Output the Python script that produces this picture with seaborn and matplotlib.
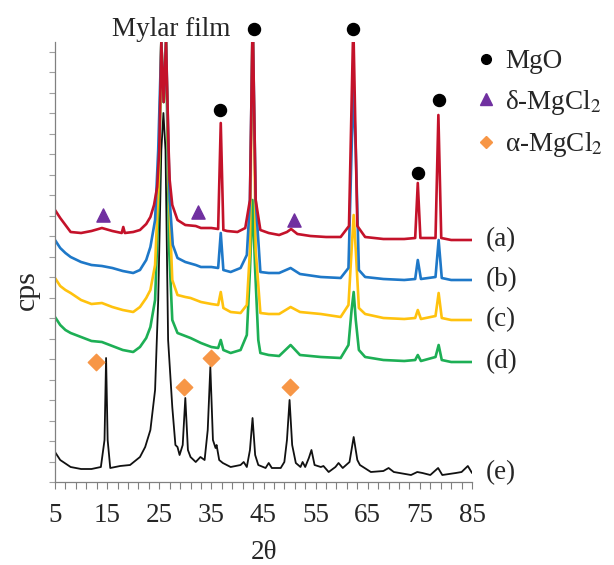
import numpy as np
import pandas as pd
import matplotlib
matplotlib.use("Agg")
import matplotlib.pyplot as plt
from matplotlib.lines import Line2D
import seaborn as sns

# XRD patterns (2theta, intensity in arbitrary cps)
a_x = [5, 6, 7, 8, 10, 12, 14, 16, 17.8, 18.1, 18.4, 20, 21.3, 22.5, 23.3, 24.0, 24.6, 25.0, 25.4,
       25.85, 26.3, 26.8, 27.0, 27.5, 28.5, 30, 32, 33, 35, 36.3, 36.8, 37.3, 38, 40, 41.5, 42.4,
       42.85, 43.0, 43.5, 44.4, 46, 48, 49.5, 50.3, 51.5, 54, 57, 59.8, 61.4, 62.15, 62.3, 63.0,
       64.5, 68, 72, 74.1, 74.6, 75.1, 78.0, 78.55, 79.1, 81, 85]
a_y = [272, 264, 257, 250, 249, 251, 254, 251, 249, 255, 249, 250, 252, 258, 265, 277, 295, 332, 440,
       380, 440, 332, 302, 277, 262, 257, 256, 254, 254, 253, 359, 252, 251, 250, 254, 282,
       440, 440, 282, 252, 249, 247, 250, 253, 248, 246, 245, 245, 256, 440, 440, 256,
       245, 243, 243, 244, 299, 244, 244, 367, 244, 242, 242]

b_x = [5, 6, 7, 8, 10, 12, 14, 16, 18, 20, 21.3, 22.5, 23.3, 24.2, 24.8, 25.4, 25.85, 26.3, 27.0,
       27.6, 28.5, 30, 32, 33, 35, 36.3, 36.8, 37.3, 38.7, 40.6, 41.8, 42.4, 42.85, 43.0, 43.5,
       44.4, 46, 48, 50.2, 52, 56, 59.8, 61.3, 61.9, 62.25, 62.7, 63.3, 64.5, 68, 72, 74.1, 74.6,
       75.2, 78.0, 78.6, 79.2, 81, 85]
b_y = [242, 234, 229, 225, 220, 217, 216, 214, 211, 209, 212, 222, 235, 262, 332, 440, 380, 440, 282,
       237, 224, 220, 217, 215, 215, 214, 249, 212, 210, 214, 227, 282, 440, 440, 282,
       210, 209, 209, 214, 208, 205, 204, 214, 332, 395, 332, 212, 205, 203, 202, 203, 222,
       203, 205, 242, 204, 202, 202]

c_x = [5, 6, 7, 8, 10, 12, 14, 16, 18, 20, 21.3, 22.5, 23.3, 24.2, 24.9, 25.4, 25.85, 26.3, 26.9,
       27.5, 28.5, 30, 31, 33, 35, 36.3, 36.8, 37.3, 38.7, 40.6, 41.8, 42.4, 42.85, 43.0, 43.5,
       44.4, 46, 48, 50.2, 52, 56, 59.8, 61.3, 61.9, 62.3, 62.7, 63.3, 64.5, 68, 72, 74.1, 74.6,
       75.2, 78.0, 78.6, 79.2, 81, 85]
c_y = [204, 196, 192, 189, 182, 178, 179, 175, 172, 170, 175, 184, 192, 217, 302, 440, 380, 440, 282,
       202, 187, 185, 184, 180, 178, 177, 190, 174, 170, 169, 177, 232, 440, 440, 232,
       169, 168, 168, 175, 170, 168, 165, 177, 232, 267, 232, 174, 168, 164, 163, 164, 172,
       163, 166, 189, 164, 162, 162]

d_x = [5, 6, 7, 8, 10, 12, 14, 16, 18, 20, 21.3, 22.5, 23.3, 24.2, 24.9, 25.4, 25.85, 26.3, 26.9,
       27.5, 28.5, 30, 31, 33, 35, 36.3, 36.8, 37.3, 38.7, 40.6, 41.8, 42.4, 42.9, 43.4, 44.0,
       44.4, 46, 48, 50.2, 52, 56, 59.8, 61.3, 61.9, 62.3, 62.7, 63.3, 64.5, 68, 72, 74.1, 74.6,
       75.2, 78.0, 78.6, 79.2, 81, 85]
d_y = [165, 157, 152, 149, 145, 141, 140, 136, 132, 130, 135, 144, 155, 182, 282, 440, 380, 440, 232,
       162, 149, 146, 144, 139, 135, 134, 142, 132, 129, 132, 147, 212, 282, 212, 142,
       129, 127, 126, 137, 127, 125, 124, 137, 172, 190, 162, 132, 125, 122, 121, 122, 127,
       121, 125, 137, 122, 120, 120]

e_x = [5, 6, 8, 10, 12, 13.8, 14.5, 14.8, 15.1, 15.6, 17.5, 19.4, 21.3, 22.3, 23.3, 24.2, 24.8,
       25.4, 25.8, 26.2, 26.7, 27.5, 28.1, 28.5, 28.9, 29.5, 30.0, 30.5, 31.0, 32.0, 32.9, 33.7,
       34.3, 34.8, 35.3, 35.8, 36.0, 36.5, 37.2, 38.7, 40.6, 41.2, 41.8, 42.4, 42.9, 43.4, 44.0,
       45.4, 46.0, 46.6, 48.3, 49.0, 49.5, 50.0, 50.5, 51.2, 52.1, 52.5, 53.0, 53.7, 54.2, 54.8,
       56.0, 56.5, 57.5, 58.8, 59.4, 60.2, 61.5, 62.3, 63.0, 63.5, 65.6, 68.0, 69.0, 70.0, 73.3,
       74.5, 75.5, 77.0, 78.5, 79.3, 81.9, 83.0, 84.2, 85.0]
e_y = [30, 22, 15, 13, 13, 15, 42, 124, 42, 14, 16, 17, 25, 35, 52, 92, 182,
       332, 369, 332, 142, 75, 37, 35, 27, 37, 84, 32, 25, 20, 25, 22,
       52, 115, 42, 34, 37, 22, 19, 15, 17, 20, 15, 32, 64, 27, 17,
       14, 19, 14, 14, 20, 42, 82, 37, 19, 15, 20, 15, 24, 32, 17,
       15, 16, 10, 15, 19, 14, 20, 45, 22, 17, 10, 11, 14, 10, 7,
       10, 9, 7, 14, 7, 9, 10, 16, 9]

trace_names = ["(a)", "(b)", "(c)", "(d)", "(e)"]
trace_colors = ["#C4122A", "#1E78C8", "#FFC20E", "#1DAF55", "#111111"]

# phase markers above the peaks
mgo_x = [36.7, 43.1, 62.1, 74.6, 78.7]
mgo_y = [372, 453, 453, 309, 382]
delta_x = [14.2, 32.5, 50.8]
delta_y = [267, 270, 262]
alpha_x = [12.9, 29.8, 35.0, 50.0]
alpha_y = [120, 95, 124, 95]

sns.set_theme(style="ticks")
plt.rcParams["font.family"] = ["Liberation Serif", "DejaVu Serif"]
plt.rcParams["mathtext.fontset"] = "stix"
fs = 19.5

fig = plt.figure(figsize=(6.14, 5.65), dpi=100)
ax = fig.add_axes([55 / 614, 1 - 482 / 565, 417 / 614, 440 / 565])

traces = [(a_x, a_y), (b_x, b_y), (c_x, c_y), (d_x, d_y), (e_x, e_y)]
for i in [4, 3, 2, 1, 0]:
    xs, ys = traces[i]
    df = pd.DataFrame({"2theta": xs, "cps": ys})
    lw = 1.3 if i == 4 else 1.9
    sns.lineplot(data=df, x="2theta", y="cps", ax=ax, color=trace_colors[i],
                 lw=lw, estimator=None, sort=False)
    ax.text(87.7, ys[-1], trace_names[i], fontsize=fs, va="center", ha="left", clip_on=False)

ax.scatter(mgo_x, mgo_y, marker="o", s=75, color="black", clip_on=False, zorder=5)
ax.scatter(delta_x, delta_y, marker="^", s=90, color="#7030A0", clip_on=False, zorder=5)
ax.scatter(alpha_x, alpha_y, marker="D", s=70, color="#F79646", clip_on=False, zorder=5)

ax.text(27.3, 452, "Mylar film", fontsize=fs, ha="center", va="center", clip_on=False)

ax.set_xlim(5, 85)
ax.set_ylim(0, 440)
ax.set_xticks(np.arange(5, 86, 2), minor=True)
ax.set_xticks(np.arange(5, 86, 10))
ax.set_yticks(np.arange(0, 440, 20.5))
ax.set_yticklabels([])
ax.tick_params(axis="x", which="both", direction="out", length=5, width=0.8,
               color="#808080", labelsize=fs, pad=10)
ax.tick_params(axis="y", direction="out", length=4, width=0.8, color="#a0a0a0")
for s in ["top", "right"]:
    ax.spines[s].set_visible(False)
for s in ["left", "bottom"]:
    ax.spines[s].set_color("#808080")
    ax.spines[s].set_linewidth(0.9)

ax.set_xlabel("2θ", fontsize=fs, labelpad=9)
ax.set_ylabel("")
fig.text(27 / 614, 1 - 290 / 565, "cps", fontsize=fs + 2, rotation=90,
         ha="center", va="center")

handles = [
    Line2D([], [], marker="o", ls="", color="black", markersize=7),
    Line2D([], [], marker="^", ls="", color="#7030A0", markersize=8),
    Line2D([], [], marker="D", ls="", color="#F79646", markersize=6),
]
labels = ["MgO", "δ-MgCl$_2$", "α-MgCl$_2$"]
fig.legend(handles, labels, loc="upper left", bbox_to_anchor=(478 / 614, 1 - 49 / 565),
           frameon=False, fontsize=fs, handlelength=0.6, handletextpad=0.4,
           labelspacing=0.5, borderpad=0, borderaxespad=0)

fig.savefig("out.png", dpi=100)
